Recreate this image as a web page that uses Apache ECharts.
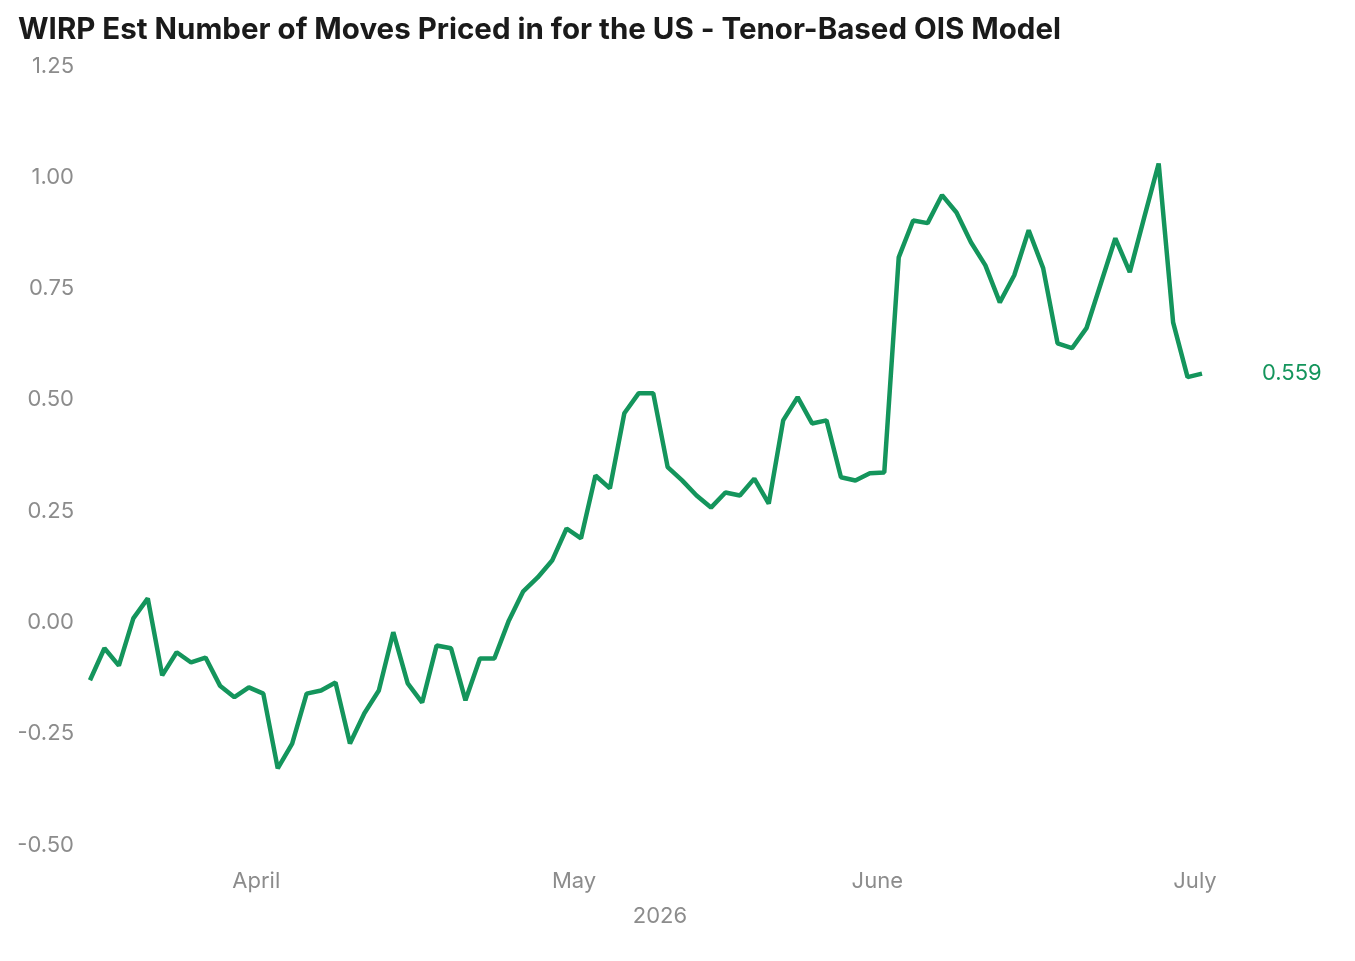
<!DOCTYPE html>
<html lang="en">
<head>
    <meta charset="UTF-8">
    <title>WIRP Est Number of Moves</title>
    <script src="https://cdn.jsdelivr.net/npm/echarts@6/dist/echarts.min.js"></script>
    <style>
        html, body { margin: 0; padding: 0; background: #fff; }
        #chart { width: 1355px; height: 961px; }
    </style>
</head>
<body>
<div id="chart"></div>

<script type="text/javascript">
    // business days, mid March to 1 July 2026
    var dates = [
        '2026-03-16', '2026-03-17', '2026-03-18', '2026-03-19', '2026-03-20',
        '2026-03-23', '2026-03-24', '2026-03-25', '2026-03-26', '2026-03-27',
        '2026-03-30', '2026-03-31',
        '2026-04-01', '2026-04-02', '2026-04-03', '2026-04-06', '2026-04-07',
        '2026-04-08', '2026-04-09', '2026-04-10', '2026-04-13', '2026-04-14',
        '2026-04-15', '2026-04-16', '2026-04-17', '2026-04-20', '2026-04-21',
        '2026-04-22', '2026-04-23', '2026-04-24', '2026-04-27', '2026-04-28',
        '2026-04-29', '2026-04-30',
        '2026-05-01', '2026-05-04', '2026-05-05', '2026-05-06', '2026-05-07',
        '2026-05-08', '2026-05-11', '2026-05-12', '2026-05-13', '2026-05-14',
        '2026-05-15', '2026-05-18', '2026-05-19', '2026-05-20', '2026-05-21',
        '2026-05-22', '2026-05-25', '2026-05-26', '2026-05-27', '2026-05-28',
        '2026-05-29',
        '2026-06-01', '2026-06-02', '2026-06-03', '2026-06-04', '2026-06-05',
        '2026-06-08', '2026-06-09', '2026-06-10', '2026-06-11', '2026-06-12',
        '2026-06-15', '2026-06-16', '2026-06-17', '2026-06-18', '2026-06-19',
        '2026-06-22', '2026-06-23', '2026-06-24', '2026-06-25', '2026-06-26',
        '2026-06-29', '2026-06-30',
        '2026-07-01'
    ];

    var moves = [
        -0.130, -0.058, -0.097, 0.009, 0.054, -0.119, -0.067, -0.090, -0.079, -0.142,
        -0.168, -0.146, -0.160, -0.328, -0.272, -0.160, -0.153, -0.135, -0.272, -0.204,
        -0.153, -0.022, -0.137, -0.180, -0.052, -0.058, -0.175, -0.081, -0.081, 0.004,
        0.070, 0.101, 0.139, 0.211, 0.189, 0.330, 0.301, 0.470, 0.515, 0.515,
        0.349, 0.319, 0.285, 0.258, 0.292, 0.285, 0.323, 0.267, 0.454, 0.506,
        0.447, 0.454, 0.326, 0.319, 0.335, 0.337, 0.820, 0.903, 0.897, 0.960,
        0.921, 0.854, 0.802, 0.719, 0.780, 0.881, 0.796, 0.627, 0.616, 0.661,
        0.762, 0.863, 0.787, 0.910, 1.031, 0.674, 0.551, 0.559
    ];

    var monthNames = ['January', 'February', 'March', 'April', 'May', 'June',
        'July', 'August', 'September', 'October', 'November', 'December'];

    var yearLabel = '2026';
    var titleText = 'WIRP Est Number of Moves Priced in for the US - Tenor-Based OIS Model';

    var green = '#14955c';
    var grey = '#8c8c8c';
    var font = 'Inter';

    var chart = echarts.init(document.getElementById('chart'));

    var option = {
        backgroundColor: '#fff',
        animation: false,
        title: {
            text: titleText,
            left: 13,
            top: 10,
            textStyle: {
                fontFamily: font,
                fontWeight: 'bold',
                fontSize: 29.5,
                color: '#1a1a1a'
            }
        },
        grid: {
            left: 90,
            right: 153,
            top: 66,
            bottom: 116
        },
        xAxis: {
            type: 'category',
            data: dates,
            boundaryGap: false,
            name: yearLabel,
            nameLocation: 'middle',
            nameGap: 60,
            nameTextStyle: {
                fontFamily: font,
                fontSize: 22,
                color: grey,
                padding: [0, 0, 0, 28]
            },
            axisLine: { show: false },
            axisTick: { show: false },
            splitLine: { show: false },
            axisLabel: {
                margin: 25,
                fontFamily: font,
                fontSize: 22,
                color: grey,
                padding: [0, 14, 0, 0],
                interval: function (index, value) {
                    return index > 0 && value.slice(5, 7) !== dates[index - 1].slice(5, 7);
                },
                formatter: function (value) {
                    return monthNames[parseInt(value.slice(5, 7), 10) - 1];
                }
            }
        },
        yAxis: {
            type: 'value',
            min: -0.5,
            max: 1.25,
            interval: 0.25,
            axisLine: { show: false },
            axisTick: { show: false },
            splitLine: { show: false },
            axisLabel: {
                margin: 16,
                fontFamily: font,
                fontSize: 22,
                color: grey,
                formatter: function (v) {
                    return v.toFixed(2);
                }
            }
        },
        series: [{
            type: 'line',
            data: moves,
            showSymbol: false,
            lineStyle: { color: green, width: 4.5 },
            itemStyle: { color: green },
            endLabel: {
                show: true,
                distance: 60,
                fontFamily: font,
                fontSize: 22,
                color: green,
                formatter: function (p) {
                    return p.value.toFixed(3);
                }
            }
        }]
    };

    chart.setOption(option);
</script>
</body>
</html>
